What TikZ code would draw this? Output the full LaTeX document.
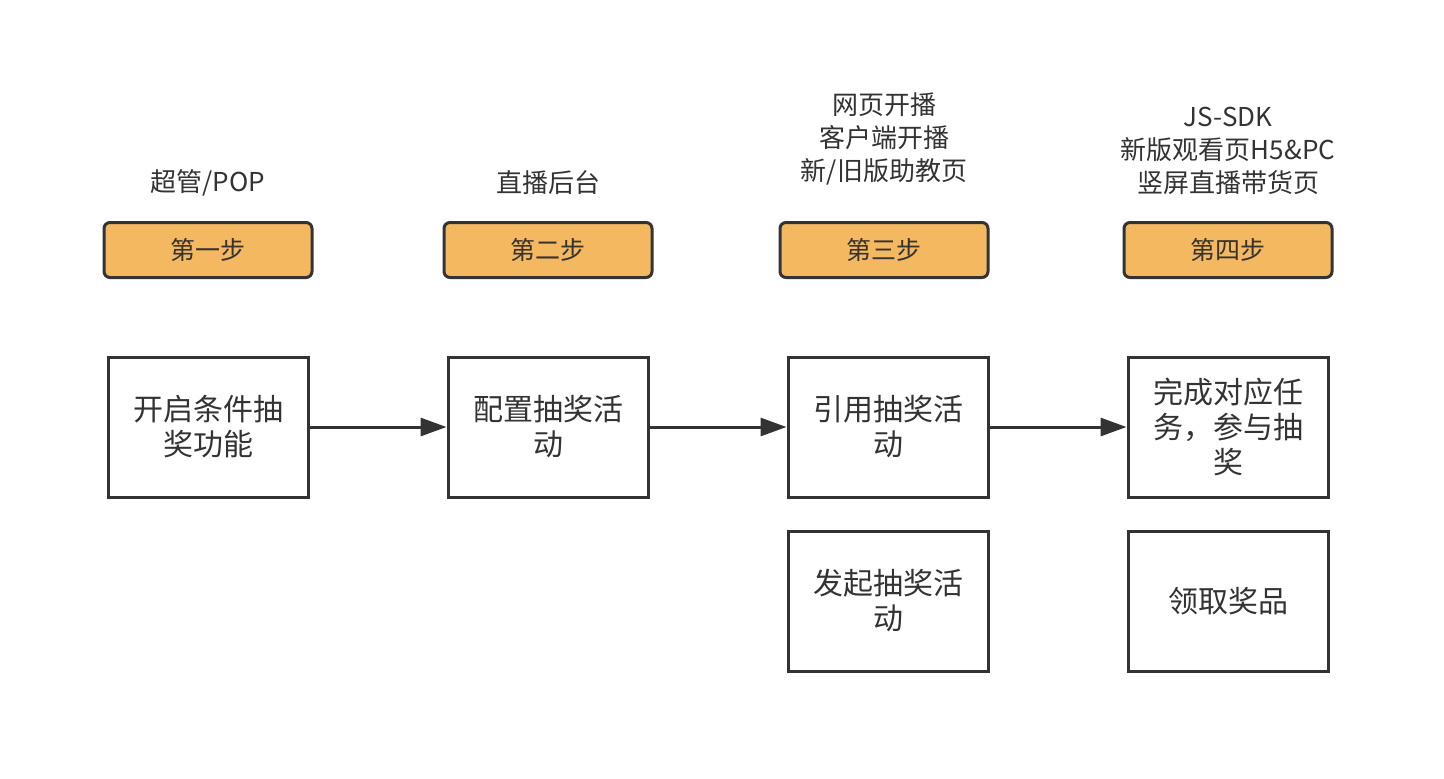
\documentclass[tikz,border=0pt]{standalone}
\usepackage{fontspec}
\setmainfont{Noto Sans CJK SC}
\usetikzlibrary{arrows.meta}
\definecolor{stepfill}{HTML}{F4B860}
\definecolor{inkgray}{HTML}{333333}
\tikzset{
    stepbox/.style={draw=inkgray, line width=1.5pt, fill=stepfill, rounded corners=3pt,
        minimum width=104pt, minimum height=27.5pt, inner sep=0pt, font=\fontsize{12.5}{14}\selectfont, text=inkgray},
    taskbox/.style={draw=inkgray, line width=1.5pt, fill=white,
        minimum width=100pt, minimum height=70pt, inner sep=2pt, align=center,
        font=\fontsize{15}{17.5}\selectfont, text=inkgray},
    sidelabel/.style={align=center, font=\fontsize{13}{16.5}\selectfont, text=inkgray},
    flow/.style={draw=inkgray, line width=1.5pt, -{Triangle[length=13pt,width=9pt]}}
}
\begin{document}
\begin{tikzpicture}[x=0.5pt,y=-0.5pt]
    \useasboundingbox (0,0) rectangle (1444,778);

    % column headings
    \node[sidelabel] (lab1) at (208,183) {超管/POP};
    \node[sidelabel] (lab2) at (548,183) {直播后台};
    \node[sidelabel] (lab3) at (884,139) {网页开播\\客户端开播\\新/旧版助教页};
    \node[sidelabel] (lab4) at (1228,151) {JS-SDK\\新版观看页H5\&PC\\竖屏直播带货页};

    % steps
    \node[stepbox] (step1) at (208,250) {第一步};
    \node[stepbox] (step2) at (548,250) {第二步};
    \node[stepbox] (step3) at (884,250) {第三步};
    \node[stepbox] (step4) at (1228,250) {第四步};

    % tasks
    \node[taskbox] (task1) at (208,427) {开启条件抽\\奖功能};
    \node[taskbox] (task2) at (548,427) {配置抽奖活\\动};
    \node[taskbox] (task3) at (888,427) {引用抽奖活\\动};
    \node[taskbox] (task4) at (1228,427) {完成对应任\\务，参与抽\\奖};
    \node[taskbox] (task5) at (888,601) {发起抽奖活\\动};
    \node[taskbox] (task6) at (1228,601) {领取奖品};

    \draw[flow] (task1) -- (task2);
    \draw[flow] (task2) -- (task3);
    \draw[flow] (task3) -- (task4);
\end{tikzpicture}
\end{document}
